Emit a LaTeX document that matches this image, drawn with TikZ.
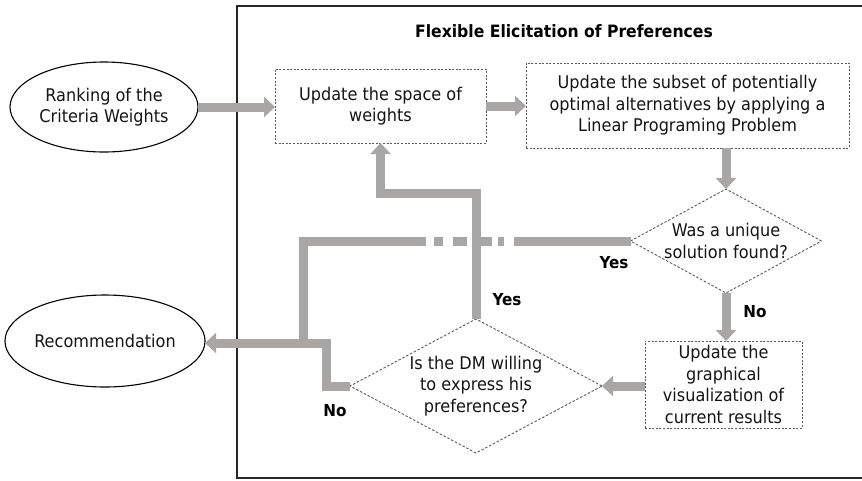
\documentclass[tikz,border=0pt]{standalone}
\usepackage{fontspec}
\setmainfont{DejaVu Sans}[FakeStretch=0.92]
\usetikzlibrary{arrows.meta,shapes.geometric}
\definecolor{arrowgray}{HTML}{A9A6A6}
\definecolor{boxline}{HTML}{5A5A5A}
\definecolor{txt}{HTML}{141414}
\begin{document}
\begin{tikzpicture}[x=1pt,y=-1pt,
  font=\fontsize{17.5}{21.5}\selectfont, text=txt,
  every node/.style={inner sep=0pt, outer sep=0pt, align=center},
  stepbox/.style={draw=boxline, line width=0.9pt, dash pattern=on 2pt off 1.6pt, rectangle},
  decision/.style={draw=boxline, line width=0.9pt, dash pattern=on 2.5pt off 1.8pt, diamond},
  terminal/.style={draw=black, line width=1.1pt, ellipse},
  conn/.style={draw=arrowgray, line width=9pt},
  flow/.style={conn, -{Triangle[width=20pt,length=11pt]}},
  lbl/.style={font=\fontsize{16.5}{18}\selectfont\bfseries, text=black},
]
\useasboundingbox (0,0) rectangle (862,480);
\draw[line width=2pt, draw=black!85] (237,6) rectangle (880,478);

\node[font=\fontsize{17}{20}\selectfont\bfseries, text=black] (title) at (564,31) {Flexible Elicitation of Preferences};

\node[terminal, minimum width=188, minimum height=90] (rank) at (104,107) {Ranking of the\\Criteria Weights};
\node[terminal, minimum width=186, minimum height=92] (rec) at (105,341) {Recommendation};

\node[stepbox, minimum width=211, minimum height=74] (b1) at (380.5,106) {Update the space of\\weights};
\node[stepbox, minimum width=323, minimum height=85] (b2) at (687.5,105.5) {Update the subset of potentially\\optimal alternatives by applying a\\Linear Programing Problem};
\node[stepbox, minimum width=157, minimum height=87] (b3) at (723.5,384.5) {Update the\\graphical\\visualization of\\current results};

\node[decision, minimum width=191, minimum height=104,
  label={[align=center]center:Was a unique\\solution found?}] (d1) at (726,241) {};
\node[decision, minimum width=252, minimum height=134,
  label={[align=center]center:Is the DM willing\\to express his\\preferences?}] (d2) at (476,386) {};

\coordinate (joinA) at (303,343);
\coordinate (yesturn) at (476,193);
\coordinate (noturn) at (326,343);

% dash-dot "Yes" path from the first decision
\draw[conn, dash pattern=on 117pt off 10pt on 6pt off 6pt on 11pt off 14pt on 14pt off 10pt on 9pt off 8pt on 600pt] (d1.west) -| (joinA);

\draw[flow] (rank.east) -- (rank.east -| b1.west);
\draw[flow] (b1.east) -- (b1.east -| b2.west);
\draw[flow] (d1.north |- b2.south) -- (d1.north);
\draw[flow] (d1.south) -- (d1.south |- b3.north);
\draw[flow] (d2.east -| b3.west) -- (d2.east);
\draw[flow] (d2.north) -- (yesturn) -| (b1.south);
\draw[flow] (d2.west) -| (noturn) -- (noturn -| rec.east);

\node[lbl] (yes1) at (614,263) {Yes};
\node[lbl] (yes2) at (507,300) {Yes};
\node[lbl] (no1) at (755,312) {No};
\node[lbl] (no2) at (335,411) {No};
\end{tikzpicture}
\end{document}
